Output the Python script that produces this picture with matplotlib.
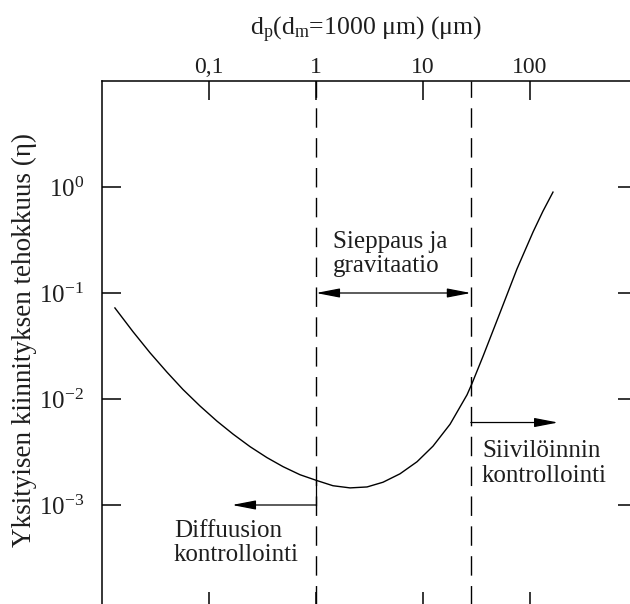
import matplotlib
matplotlib.use("Agg")
import matplotlib.pyplot as plt
from matplotlib.ticker import NullLocator

plt.rcParams['font.family'] = ['Liberation Serif', 'DejaVu Serif']
plt.rcParams['mathtext.fontset'] = 'custom'
plt.rcParams['mathtext.rm'] = 'Liberation Serif'
plt.rcParams['mathtext.it'] = 'Liberation Serif:italic'

# curve
dp = [0.0132, 0.0195, 0.0281, 0.0405, 0.0571, 0.0824, 0.119, 0.168, 0.242,
      0.348, 0.492, 0.709, 1.02, 1.44, 2.08, 3.0, 4.23, 6.1, 8.8, 12.4,
      17.9, 25.8, 28.7, 36.4, 52.5, 75.6, 107, 132, 164]
eta = [0.0723, 0.0431, 0.0273, 0.0179, 0.0123, 0.00859, 0.00617, 0.00466,
       0.00355, 0.00280, 0.00230, 0.00193, 0.00170, 0.00152, 0.00145,
       0.00148, 0.00164, 0.00197, 0.00256, 0.00359, 0.00578, 0.01096,
       0.0140, 0.0253, 0.0653, 0.169, 0.378, 0.590, 0.895]

borders = [1, 28]
xticks = [0.1, 1, 10, 100]
xticklabels = ['0,1', '1', '10', '100']
yticks = [1e-3, 1e-2, 1e-1, 1e0]
yticklabels = [r'$\mathregular{10^{-3}}$', r'$\mathregular{10^{-2}}$',
               r'$\mathregular{10^{-1}}$', r'$\mathregular{10^{0}}$']

# arrows: (start x, end x, y)
grav_arrow = (1, 28, 0.1)
siev_arrow = (28, 183, 0.006)
diff_x = [1, 1, 0.164]
diff_y = [0.0017, 0.001, 0.001]

txtcol = '#1e1e1e'

fig = plt.figure(figsize=(6.3, 6.04), dpi=100)
ax = fig.add_axes([102 / 630, -7 / 604, 535 / 630, 530 / 604])

ax.plot(dp, eta, color='black', lw=1.0, solid_joinstyle='round')
for b in borders:
    ax.axvline(b, color='black', lw=1.0, dashes=(14, 7.5))

ax.set_xscale('log')
ax.set_yscale('log')
ax.set_xlim(0.01, 1000)
ax.set_ylim(1e-4, 10)
ax.set_xticks(xticks)
ax.set_xticklabels(xticklabels)
ax.set_yticks(yticks)
ax.set_yticklabels(yticklabels)
ax.xaxis.set_minor_locator(NullLocator())
ax.yaxis.set_minor_locator(NullLocator())
ax.tick_params(which='major', direction='in', length=14, width=1.1,
               top=True, bottom=True, left=True, right=True,
               labeltop=True, labelbottom=False, labelsize=17,
               colors='black', labelcolor=txtcol)
ax.tick_params(axis='x', pad=2)
ax.tick_params(axis='y', pad=13, labelsize=18)
for s in ax.spines.values():
    s.set_linewidth(1.1)

aprops = dict(color='black', lw=0.9, shrinkA=0, shrinkB=0, mutation_scale=10)
ax.annotate('', xy=(grav_arrow[1], grav_arrow[2]), xytext=(grav_arrow[0], grav_arrow[2]),
            arrowprops=dict(arrowstyle='<|-|>,head_length=1.45,head_width=0.28', **aprops))
ax.annotate('', xy=(siev_arrow[1], siev_arrow[2]), xytext=(siev_arrow[0], siev_arrow[2]),
            arrowprops=dict(arrowstyle='-|>,head_length=1.45,head_width=0.28', **aprops))
ax.plot(diff_x[:2], diff_y[:2], color='black', lw=0.9)
ax.annotate('', xy=(diff_x[2], diff_y[2]), xytext=(diff_x[1], diff_y[1]),
            arrowprops=dict(arrowstyle='-|>,head_length=1.45,head_width=0.28', **aprops))

ax.text(1.44, 0.233, 'Sieppaus ja\ngravitaatio', fontsize=18, color=txtcol,
        ha='left', va='center', linespacing=1.15)
ax.text(35.6, 0.00245, 'Siivilöinnin\nkontrollointi', fontsize=18, color=txtcol,
        ha='left', va='center', linespacing=1.15)
ax.text(0.047, 0.00044, 'Diffuusion\nkontrollointi', fontsize=18, color=txtcol,
        ha='left', va='center', linespacing=1.15)

fig.text(366 / 630, 1 - 30 / 604,
         r'd$_\mathregular{p}$(d$_\mathregular{m}$=1000 μm) (μm)',
         fontsize=18.5, color=txtcol, ha='center', va='center')
fig.text(24 / 630, 1 - 340 / 604, 'Yksityisen kiinnityksen tehokkuus (η)',
         fontsize=19.5, color=txtcol, ha='center', va='center', rotation=90)

fig.savefig('out.png', dpi=100)
